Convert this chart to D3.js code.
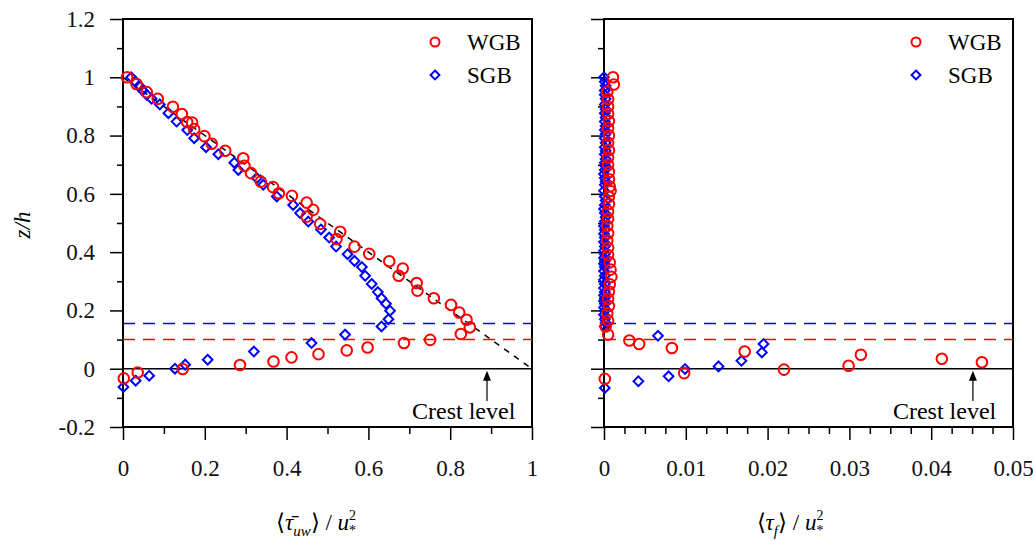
<!DOCTYPE html>
<meta charset="utf-8">
<script src="https://d3js.org/d3.v7.min.js"></script>
<style>
  body { margin: 0; background: #fff; }
  text { font-family: "Liberation Serif", serif; }
</style>
<div id="my_dataviz"></div>
<script>

// ---- data ----
// left panel : <tau_uw>/u*^2 against z/h  ([x, z])
var wgbUw = [[0.002,-0.033],[0.036,-0.013],[0.146,-0.001],[0.286,0.013],[0.368,0.025],[0.412,0.039],
  [0.478,0.050],[0.547,0.063],[0.598,0.073],[0.687,0.088],[0.751,0.099],[0.826,0.119],[0.848,0.142],
  [0.840,0.168],[0.822,0.193],[0.802,0.219],[0.760,0.242],[0.720,0.268],[0.718,0.294],[0.674,0.319],
  [0.684,0.344],[0.651,0.369],[0.602,0.394],[0.566,0.419],[0.522,0.445],[0.531,0.470],[0.482,0.497],
  [0.449,0.522],[0.465,0.545],[0.449,0.570],[0.413,0.593],[0.381,0.602],[0.367,0.623],[0.337,0.642],
  [0.313,0.671],[0.297,0.696],[0.294,0.722],[0.250,0.748],[0.217,0.772],[0.199,0.798],[0.174,0.822],
  [0.169,0.845],[0.157,0.846],[0.144,0.874],[0.122,0.899],[0.085,0.926],[0.058,0.949],[0.033,0.977],
  [0.010,1.000]];

var sgbUw = [[0.001,-0.063],[0.031,-0.041],[0.064,-0.024],[0.127,0.000],[0.152,0.014],[0.207,0.031],
  [0.320,0.059],[0.461,0.088],[0.543,0.117],[0.632,0.145],[0.649,0.170],[0.653,0.199],[0.643,0.223],
  [0.632,0.242],[0.623,0.263],[0.608,0.291],[0.592,0.319],[0.584,0.349],[0.566,0.370],[0.549,0.393],
  [0.521,0.419],[0.504,0.450],[0.484,0.478],[0.453,0.505],[0.433,0.534],[0.416,0.562],[0.376,0.591],
  [0.343,0.631],[0.327,0.654],[0.282,0.682],[0.272,0.707],[0.233,0.736],[0.203,0.760],[0.174,0.791],
  [0.157,0.819],[0.131,0.848],[0.111,0.877],[0.090,0.907],[0.070,0.926],[0.058,0.940],[0.048,0.955],
  [0.040,0.971],[0.030,0.985],[0.020,1.000]];

// right panel : <tau_f>/u*^2 against z/h  ([x, z])
var wgbTf = [[0.0011,1.000],[0.0012,0.975],[0.0004,0.950],[0.0005,0.925],[0.0005,0.900],[0.0005,0.875],
  [0.0006,0.850],[0.0005,0.825],[0.0006,0.800],[0.0005,0.775],[0.0006,0.750],[0.0005,0.725],[0.0005,0.700],
  [0.0006,0.675],[0.0006,0.650],[0.0007,0.625],[0.0008,0.610],[0.0006,0.590],[0.0006,0.565],[0.0005,0.540],
  [0.0005,0.515],[0.0004,0.490],[0.0005,0.465],[0.0004,0.440],[0.0005,0.415],[0.0005,0.390],[0.0007,0.365],
  [0.0008,0.340],[0.0009,0.315],[0.0007,0.290],[0.0006,0.265],[0.0005,0.240],[0.0006,0.215],[0.0004,0.190],
  [0.0005,0.165],[0.0002,0.145],[0.0005,0.117],
  [0.0001,-0.035],[0.0031,0.097],[0.0043,0.085],[0.0083,0.071],[0.0098,-0.015],[0.0172,0.059],
  [0.0220,-0.003],[0.0299,0.010],[0.0314,0.048],[0.0413,0.034],[0.0462,0.022]];

var sgbTf = [[0.0000,1.000],[0.0001,0.985],[0.0002,0.971],[0.0001,0.955],[0.0001,0.940],[0.0002,0.926],
  [0.0001,0.907],[0.0002,0.890],[0.0001,0.877],[0.0002,0.862],[0.0001,0.848],[0.0002,0.833],[0.0001,0.819],
  [0.0002,0.805],[0.0001,0.791],[0.0002,0.775],[0.0001,0.760],[0.0002,0.748],[0.0001,0.736],[0.0002,0.720],
  [0.0001,0.707],[0.0002,0.695],[0.0001,0.682],[0.0000,0.668],[0.0001,0.654],[0.0002,0.642],[0.0001,0.631],
  [0.0000,0.611],[0.0001,0.591],[0.0002,0.577],[0.0001,0.562],[0.0000,0.548],[0.0001,0.534],[0.0002,0.520],
  [0.0001,0.505],[0.0000,0.490],[0.0001,0.477],[0.0000,0.463],[0.0001,0.450],[0.0000,0.435],[0.0001,0.419],
  [0.0000,0.405],[0.0001,0.393],[0.0000,0.380],[0.0001,0.370],[0.0000,0.360],[0.0001,0.349],[0.0000,0.335],
  [0.0001,0.319],[0.0000,0.305],[0.0001,0.291],[0.0000,0.277],[0.0001,0.263],[0.0000,0.252],[0.0001,0.242],
  [0.0000,0.232],[0.0001,0.223],[0.0000,0.210],[0.0001,0.199],[0.0000,0.185],[0.0001,0.170],[0.0002,0.158],
  [0.0001,0.145],
  [0.0001,-0.066],[0.0042,-0.043],[0.0079,-0.026],[0.0099,-0.001],[0.0140,0.008],[0.0168,0.027],
  [0.0193,0.056],[0.0195,0.085],[0.0066,0.113]];

// tick values
var yMajor = [-0.2, 0, 0.2, 0.4, 0.6, 0.8, 1, 1.2];
var yMinor = [-0.1, 0.1, 0.3, 0.5, 0.7, 0.9, 1.1];
var xMajorL = [0, 0.2, 0.4, 0.6, 0.8, 1];
var xMinorL = [0.1, 0.3, 0.5, 0.7, 0.9];
var xMajorR = [0, 0.01, 0.02, 0.03, 0.04, 0.05];
var xMinorR = [0.0025, 0.005, 0.0075, 0.0125, 0.015, 0.0175, 0.0225, 0.025, 0.0275,
               0.0325, 0.035, 0.0375, 0.0425, 0.045, 0.0475];

// reference levels
var crestZ = 0;
var wgbLevel = 0.1;
var sgbLevel = 0.155;
var crestXL = 0.89;
var crestXR = 0.0451;

var series = ["WGB", "SGB"];

var W = 1033, H = 541;
var svg = d3.select("#my_dataviz")
  .append("svg")
    .attr("width", W)
    .attr("height", H);

var y = d3.scaleLinear().domain([-0.2, 1.2]).range([427, 19]);
var fmt = function(d) { return String(+d.toFixed(4)); };

function panel(x0, x1, xdom, xMaj, xMin, wgb, sgb, crestX, crestDx, showYLabels, diag) {
  var x = d3.scaleLinear().domain(xdom).range([x0, x1]);
  var g = svg.append("g");

  // y axis
  g.append("g")
    .attr("transform", "translate(" + x0 + ",0)")
    .call(d3.axisLeft(y).tickValues(yMajor).tickSize(13).tickSizeOuter(0).tickPadding(15)
      .tickFormat(showYLabels ? fmt : ""))
    .call(function(a) { a.select(".domain").remove(); });
  g.append("g")
    .attr("transform", "translate(" + x0 + ",0)")
    .call(d3.axisLeft(y).tickValues(yMinor).tickSize(6).tickSizeOuter(0).tickFormat(""))
    .call(function(a) { a.select(".domain").remove(); });

  // x axis
  g.append("g")
    .attr("transform", "translate(0,427)")
    .call(d3.axisBottom(x).tickValues(xMaj).tickSize(13).tickSizeOuter(0).tickPadding(20).tickFormat(fmt))
    .call(function(a) { a.select(".domain").remove(); });
  g.append("g")
    .attr("transform", "translate(0,427)")
    .call(d3.axisBottom(x).tickValues(xMin).tickSize(7).tickSizeOuter(0).tickFormat(""))
    .call(function(a) { a.select(".domain").remove(); });

  g.selectAll(".tick line").attr("stroke", "#000").attr("stroke-width", 1.5);
  g.selectAll(".tick text").attr("font-family", "Liberation Serif").attr("font-size", 23).attr("fill", "#111");

  // frame
  g.append("rect")
    .attr("x", x0).attr("y", y(1.2))
    .attr("width", x1 - x0).attr("height", y(-0.2) - y(1.2))
    .attr("fill", "none").attr("stroke", "#000").attr("stroke-width", 2);

  // crest line and bed levels
  g.append("line")
    .attr("x1", x0).attr("x2", x1).attr("y1", y(crestZ)).attr("y2", y(crestZ))
    .attr("stroke", "#000").attr("stroke-width", 1.5);
  g.append("line")
    .attr("x1", x0).attr("x2", x1).attr("y1", y(sgbLevel)).attr("y2", y(sgbLevel))
    .attr("stroke", "blue").attr("stroke-width", 1.5).attr("stroke-dasharray", "12,8");
  g.append("line")
    .attr("x1", x0).attr("x2", x1).attr("y1", y(wgbLevel)).attr("y2", y(wgbLevel))
    .attr("stroke", "red").attr("stroke-width", 1.5).attr("stroke-dasharray", "12,8");

  if (diag) {
    g.append("line")
      .attr("x1", x(0)).attr("y1", y(1)).attr("x2", x(1)).attr("y2", y(0))
      .attr("stroke", "#000").attr("stroke-width", 1.5).attr("stroke-dasharray", "6,6");
  }

  // markers
  var diamond = d3.symbol().type(d3.symbolDiamond2).size(60);
  g.append("g").selectAll("path")
    .data(sgb).enter().append("path")
      .attr("d", diamond)
      .attr("transform", function(d) { return "translate(" + x(d[0]) + "," + y(d[1]) + ")"; })
      .attr("fill", "none").attr("stroke", "blue").attr("stroke-width", 2);
  g.append("g").selectAll("circle")
    .data(wgb).enter().append("circle")
      .attr("cx", function(d) { return x(d[0]); })
      .attr("cy", function(d) { return y(d[1]); })
      .attr("r", 5.3)
      .attr("fill", "none").attr("stroke", "red").attr("stroke-width", 2);

  // crest level arrow
  var ax = x(crestX);
  g.append("line")
    .attr("x1", ax).attr("x2", ax).attr("y1", 401).attr("y2", y(crestZ) + 8)
    .attr("stroke", "#000").attr("stroke-width", 1.2);
  g.append("path")
    .attr("d", "M" + ax + "," + (y(crestZ) + 2) + " l-4,10 l8,0 z")
    .attr("fill", "#000");
  g.append("text")
    .attr("x", ax - crestDx).attr("y", 419)
    .attr("font-size", 24)
    .text("Crest level");

  // legend
  var lx = x1 - 97;
  var leg = g.append("g").attr("transform", "translate(" + lx + ",42)");
  leg.append("circle").attr("cx", 0).attr("cy", 0).attr("r", 4.5)
    .attr("fill", "none").attr("stroke", "red").attr("stroke-width", 2);
  leg.append("path").attr("d", d3.symbol().type(d3.symbolDiamond2).size(50))
    .attr("transform", "translate(0,33)")
    .attr("fill", "none").attr("stroke", "blue").attr("stroke-width", 2);
  leg.selectAll("text").data(series).enter().append("text")
    .attr("x", 32).attr("y", function(d, i) { return 8 + i * 33; })
    .attr("font-size", 23)
    .text(function(d) { return d; });

  return x;
}

panel(123, 532, [0, 1], xMajorL, xMinorL, wgbUw, sgbUw, crestXL, 75, true, true);
panel(604, 1013, [0, 0.05], xMajorR, xMinorR, wgbTf, sgbTf, crestXR, 80, false, false);

// y title
svg.append("text")
  .attr("transform", "translate(30,225) rotate(-90)")
  .attr("text-anchor", "middle")
  .attr("font-size", 23)
  .attr("font-style", "italic")
  .text("z/h");

// x titles
function xTitle(cx, main, sub) {
  var t = svg.append("text")
    .attr("x", cx).attr("y", 530)
    .attr("text-anchor", "middle")
    .attr("font-size", 23);
  t.append("tspan").text("\u27E8");
  t.append("tspan").attr("font-style", "italic").text(main);
  t.append("tspan").attr("font-style", "italic").attr("font-size", 15).attr("dy", 6).text(sub);
  t.append("tspan").attr("dy", -6).text("\u27E9 / ");
  t.append("tspan").attr("font-style", "italic").text("u");
  t.append("tspan").attr("font-size", 14).attr("dy", -10).text("2");
  t.append("tspan").attr("font-size", 14).attr("dx", -7).attr("dy", 15).text("*");
}
xTitle(316, "\u03C4\u0304", "uw");
xTitle(790, "\u03C4", "f");

</script>
